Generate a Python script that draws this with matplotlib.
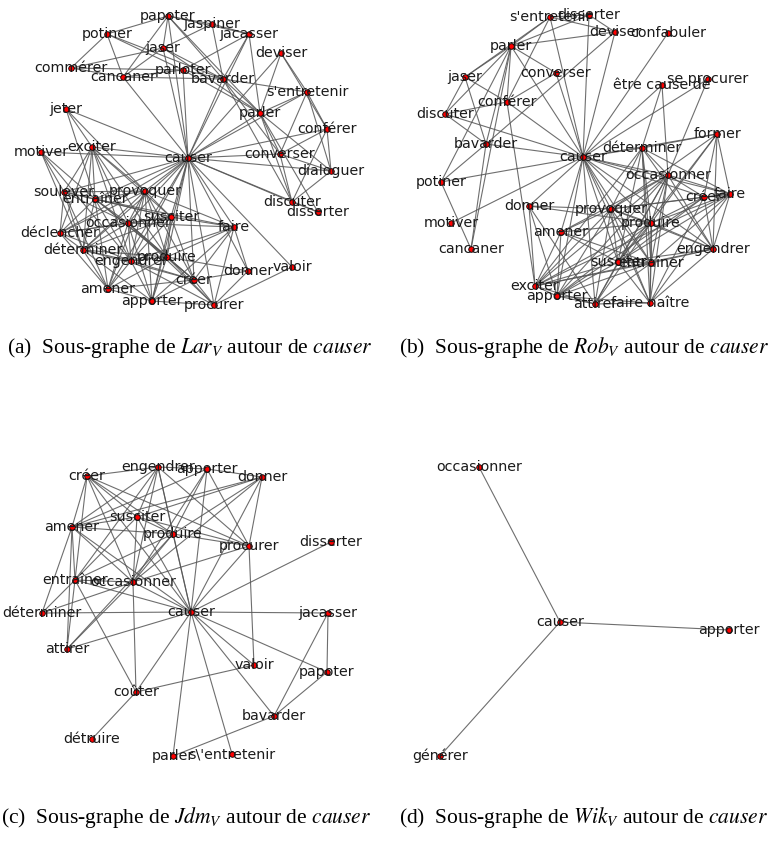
import matplotlib
matplotlib.use('Agg')
import matplotlib.pyplot as plt

plt.rcParams['mathtext.fontset'] = 'stix'

# --- (a) Lar_V : node layout (panel units) ---
lar_nodes = ['papoter', 'jaspiner', 'jacasser', 'potiner', 'jaser', 'commérer', 'cancaner',
             'parloter', 'bavarder', 'deviser', "s'entretenir", 'parler', 'jeter', 'conférer',
             'motiver', 'exciter', 'causer', 'converser', 'dialoguer', 'soulever', 'entraîner',
             'provoquer', 'discuter', 'disserter', 'susciter', 'occasionner', 'faire',
             'déclencher', 'déterminer', 'engendrer', 'produire', 'donner', 'valoir', 'créer',
             'amener', 'apporter', 'procurer']
lar_x = [168, 212, 249, 107, 163, 71, 123, 183, 223, 281, 307, 260, 66, 327, 41, 92, 188, 280,
         331, 64, 95, 145, 292, 318, 171, 128, 234, 60, 83, 131, 167, 248, 292, 194, 108, 152, 214]
lar_y = [16, 24, 34, 34, 48, 68, 77, 70, 79, 53, 92, 113, 109, 129, 152, 147, 158, 154, 171, 192,
         199, 191, 202, 212, 217, 223, 227, 233, 250, 261, 257, 271, 267, 280, 289, 301, 305]
lar_edges = [
    ('potiner', 'papoter'), ('potiner', 'commérer'), ('potiner', 'cancaner'), ('potiner', 'bavarder'),
    ('potiner', 'parloter'), ('papoter', 'jaser'), ('papoter', 'cancaner'), ('papoter', 'jacasser'),
    ('papoter', 'bavarder'), ('papoter', 'parler'), ('papoter', 'jaspiner'), ('jaspiner', 'jaser'),
    ('jaspiner', 'jacasser'), ('jaspiner', 'bavarder'), ('jacasser', 'bavarder'), ('jacasser', 'parloter'),
    ('jacasser', 'parler'), ('jaser', 'commérer'), ('jaser', 'cancaner'), ('jaser', 'bavarder'),
    ('jaser', 'parler'), ('commérer', 'cancaner'), ('commérer', 'parloter'), ('cancaner', 'parloter'),
    ('cancaner', 'bavarder'), ('parloter', 'bavarder'), ('parloter', 'parler'), ('bavarder', 'parler'),
    ('bavarder', "s'entretenir"), ('bavarder', 'converser'), ('bavarder', 'discuter'),
    ('deviser', 'parler'), ('deviser', "s'entretenir"), ('deviser', 'conférer'),
    ("s'entretenir", 'parler'), ("s'entretenir", 'converser'), ("s'entretenir", 'conférer'),
    ("s'entretenir", 'dialoguer'), ('parler', 'converser'), ('parler', 'discuter'),
    ('parler', 'dialoguer'), ('parler', 'disserter'), ('conférer', 'converser'), ('conférer', 'dialoguer'),
    ('conférer', 'discuter'), ('converser', 'dialoguer'), ('converser', 'discuter'),
    ('dialoguer', 'discuter'), ('discuter', 'disserter'),
    ('jeter', 'exciter'), ('jeter', 'provoquer'), ('jeter', 'entraîner'),
    ('motiver', 'soulever'), ('motiver', 'entraîner'), ('motiver', 'déterminer'), ('motiver', 'engendrer'),
    ('exciter', 'soulever'), ('exciter', 'entraîner'), ('exciter', 'provoquer'), ('exciter', 'occasionner'),
    ('exciter', 'déclencher'), ('exciter', 'déterminer'), ('exciter', 'engendrer'), ('exciter', 'produire'),
    ('exciter', 'susciter'), ('soulever', 'provoquer'), ('soulever', 'déclencher'), ('soulever', 'déterminer'),
    ('soulever', 'susciter'), ('soulever', 'entraîner'), ('soulever', 'occasionner'), ('soulever', 'amener'),
    ('entraîner', 'provoquer'), ('entraîner', 'occasionner'), ('entraîner', 'déclencher'),
    ('entraîner', 'déterminer'), ('entraîner', 'engendrer'), ('entraîner', 'produire'), ('entraîner', 'créer'),
    ('entraîner', 'amener'), ('entraîner', 'susciter'), ('entraîner', 'faire'),
    ('provoquer', 'susciter'), ('provoquer', 'occasionner'), ('provoquer', 'déclencher'),
    ('provoquer', 'déterminer'), ('provoquer', 'engendrer'), ('provoquer', 'produire'), ('provoquer', 'créer'),
    ('provoquer', 'amener'), ('provoquer', 'apporter'), ('provoquer', 'faire'),
    ('susciter', 'occasionner'), ('susciter', 'déclencher'), ('susciter', 'déterminer'),
    ('susciter', 'engendrer'), ('susciter', 'produire'), ('susciter', 'créer'), ('susciter', 'apporter'),
    ('susciter', 'faire'), ('occasionner', 'faire'), ('occasionner', 'déclencher'),
    ('occasionner', 'déterminer'), ('occasionner', 'engendrer'), ('occasionner', 'produire'),
    ('occasionner', 'créer'), ('occasionner', 'amener'), ('occasionner', 'apporter'),
    ('occasionner', 'procurer'), ('faire', 'produire'), ('faire', 'créer'), ('faire', 'donner'),
    ('faire', 'procurer'), ('faire', 'engendrer'), ('faire', 'apporter'), ('déclencher', 'déterminer'),
    ('déclencher', 'amener'), ('déclencher', 'engendrer'), ('déterminer', 'engendrer'),
    ('déterminer', 'produire'), ('déterminer', 'amener'), ('déterminer', 'apporter'), ('déterminer', 'créer'),
    ('engendrer', 'produire'), ('engendrer', 'créer'), ('engendrer', 'amener'), ('engendrer', 'apporter'),
    ('engendrer', 'procurer'), ('produire', 'créer'), ('produire', 'apporter'), ('produire', 'donner'),
    ('produire', 'procurer'), ('produire', 'amener'), ('créer', 'apporter'), ('créer', 'procurer'),
    ('créer', 'donner'), ('donner', 'procurer'), ('valoir', 'procurer'), ('amener', 'apporter'),
    ('amener', 'créer'), ('apporter', 'procurer'),
] + [('causer', n) for n in lar_nodes if n not in ('causer', 'potiner', 'commérer', 'jaspiner')]

# --- (b) Rob_V ---
rob_nodes = ["s'entretenir", 'disserter', 'deviser', 'confabuler', 'parler', 'jaser', 'converser',
             'se procurer', 'être cause de', 'conférer', 'discuter', 'former', 'bavarder', 'déterminer',
             'causer', 'occasionner', 'potiner', 'faire', 'créer', 'donner', 'provoquer', 'motiver',
             'produire', 'amener', 'cancaner', 'engendrer', 'susciter', 'entraîner', 'exciter',
             'apporter', 'attirer', 'faire naître']
rob_x = [160, 199, 225, 278, 121, 75, 166, 318, 272, 117, 55, 327, 96, 252, 193, 278, 51, 340, 314,
         139, 221, 61, 261, 171, 81, 323, 228, 261, 145, 167, 205, 260]
rob_y = [17, 15, 32, 33, 46, 77, 73, 79, 85, 102, 114, 134, 144, 148, 157, 175, 182, 194, 197, 206,
         209, 223, 223, 232, 249, 249, 262, 263, 286, 296, 304, 303]
rob_edges = [
    ("s'entretenir", 'parler'), ("s'entretenir", 'conférer'), ("s'entretenir", 'disserter'),
    ("s'entretenir", 'deviser'), ("s'entretenir", 'jaser'), ('disserter', 'parler'), ('disserter', 'deviser'),
    ('deviser', 'parler'), ('deviser', 'bavarder'), ('parler', 'jaser'), ('parler', 'discuter'),
    ('parler', 'conférer'), ('parler', 'converser'), ('parler', 'bavarder'), ('parler', 'potiner'),
    ('jaser', 'discuter'), ('jaser', 'bavarder'), ('jaser', 'conférer'), ('converser', 'conférer'),
    ('conférer', 'discuter'), ('conférer', 'exciter'), ('discuter', 'bavarder'), ('bavarder', 'potiner'),
    ('bavarder', 'cancaner'), ('potiner', 'cancaner'), ('parler', 'cancaner'),
    ('être cause de', 'déterminer'), ('être cause de', 'occasionner'), ('se procurer', 'occasionner'),
    ('former', 'déterminer'), ('former', 'créer'), ('former', 'faire'), ('former', 'engendrer'),
    ('former', 'produire'), ('former', 'provoquer'), ('former', 'susciter'),
    ('déterminer', 'occasionner'), ('déterminer', 'faire'), ('déterminer', 'provoquer'),
    ('déterminer', 'produire'), ('déterminer', 'entraîner'), ('déterminer', 'susciter'),
    ('déterminer', 'exciter'), ('déterminer', 'engendrer'), ('déterminer', 'faire naître'),
    ('occasionner', 'créer'), ('occasionner', 'faire'), ('occasionner', 'provoquer'),
    ('occasionner', 'produire'), ('occasionner', 'susciter'), ('occasionner', 'entraîner'),
    ('occasionner', 'engendrer'), ('occasionner', 'amener'), ('occasionner', 'apporter'),
    ('occasionner', 'attirer'), ('occasionner', 'exciter'), ('occasionner', 'faire naître'),
    ('faire', 'créer'), ('faire', 'provoquer'), ('faire', 'produire'), ('faire', 'susciter'),
    ('faire', 'entraîner'), ('faire', 'engendrer'), ('faire', 'exciter'), ('faire', 'faire naître'),
    ('créer', 'provoquer'), ('créer', 'produire'), ('créer', 'susciter'), ('créer', 'engendrer'),
    ('créer', 'apporter'), ('créer', 'faire naître'), ('donner', 'provoquer'), ('donner', 'apporter'),
    ('donner', 'exciter'), ('donner', 'produire'), ('donner', 'attirer'), ('provoquer', 'produire'),
    ('provoquer', 'amener'), ('provoquer', 'susciter'), ('provoquer', 'entraîner'),
    ('provoquer', 'exciter'), ('provoquer', 'apporter'), ('provoquer', 'attirer'),
    ('provoquer', 'faire naître'), ('provoquer', 'engendrer'), ('produire', 'amener'),
    ('produire', 'susciter'), ('produire', 'entraîner'), ('produire', 'engendrer'),
    ('produire', 'faire naître'), ('produire', 'apporter'), ('produire', 'exciter'), ('produire', 'attirer'),
    ('amener', 'susciter'), ('amener', 'entraîner'), ('amener', 'exciter'), ('amener', 'apporter'),
    ('engendrer', 'susciter'), ('engendrer', 'entraîner'), ('engendrer', 'faire naître'),
    ('engendrer', 'exciter'), ('susciter', 'entraîner'), ('susciter', 'exciter'), ('susciter', 'apporter'),
    ('susciter', 'attirer'), ('susciter', 'faire naître'), ('entraîner', 'exciter'),
    ('entraîner', 'apporter'), ('entraîner', 'attirer'), ('entraîner', 'faire naître'),
    ('exciter', 'apporter'), ('exciter', 'attirer'), ('apporter', 'attirer'), ('apporter', 'faire naître'),
    ('attirer', 'faire naître'),
] + [('causer', n) for n in rob_nodes if n not in ('causer', 'jaser', 'cancaner', 'exciter')]

# --- (c) Jdm_V ---
jdm_nodes = ['engendrer', 'apporter', 'créer', 'donner', 'susciter', 'amener', 'produire', 'disserter',
             'procurer', 'entraîner', 'occasionner', 'déterminer', 'causer', 'jacasser', 'attirer',
             'valoir', 'papoter', 'coûter', 'bavarder', 'détruire', 'parler', "s\\'entretenir"]
jdm_x = [158, 207, 87, 262, 137, 72, 173, 331, 249, 75, 133, 42, 191, 328, 67, 254, 327, 136, 274, 92,
         173, 232]
jdm_y = [47, 49, 56, 57, 97, 107, 114, 122, 126, 160, 162, 193, 192, 193, 229, 245, 252, 272, 296,
         319, 336, 334]
jdm_edges = [
    ('créer', 'engendrer'), ('créer', 'amener'), ('créer', 'entraîner'), ('créer', 'susciter'),
    ('créer', 'produire'), ('créer', 'procurer'), ('créer', 'occasionner'), ('créer', 'causer'),
    ('engendrer', 'apporter'), ('engendrer', 'amener'), ('engendrer', 'entraîner'), ('engendrer', 'susciter'),
    ('engendrer', 'produire'), ('engendrer', 'occasionner'), ('engendrer', 'causer'),
    ('engendrer', 'procurer'), ('apporter', 'donner'), ('apporter', 'produire'), ('apporter', 'occasionner'),
    ('apporter', 'causer'), ('apporter', 'procurer'), ('apporter', 'amener'), ('donner', 'susciter'),
    ('donner', 'amener'), ('donner', 'produire'), ('donner', 'procurer'), ('donner', 'occasionner'),
    ('donner', 'causer'), ('susciter', 'amener'), ('susciter', 'entraîner'), ('susciter', 'produire'),
    ('susciter', 'procurer'), ('susciter', 'occasionner'), ('susciter', 'causer'),
    ('amener', 'produire'), ('amener', 'entraîner'), ('amener', 'déterminer'), ('amener', 'attirer'),
    ('amener', 'occasionner'), ('amener', 'causer'), ('produire', 'procurer'), ('produire', 'entraîner'),
    ('produire', 'occasionner'), ('produire', 'causer'), ('produire', 'attirer'),
    ('procurer', 'occasionner'), ('procurer', 'causer'), ('procurer', 'valoir'),
    ('entraîner', 'déterminer'), ('entraîner', 'attirer'), ('entraîner', 'occasionner'),
    ('entraîner', 'causer'), ('entraîner', 'coûter'), ('occasionner', 'déterminer'),
    ('occasionner', 'attirer'), ('occasionner', 'causer'), ('occasionner', 'coûter'),
    ('déterminer', 'causer'), ('attirer', 'causer'), ('causer', 'disserter'), ('causer', 'jacasser'),
    ('causer', 'papoter'), ('causer', 'valoir'), ('causer', 'bavarder'), ('causer', 'parler'),
    ('causer', "s\\'entretenir"), ('causer', 'coûter'), ('jacasser', 'papoter'), ('jacasser', 'bavarder'),
    ('papoter', 'bavarder'), ('bavarder', 'parler'), ('coûter', 'valoir'), ('coûter', 'détruire'),
]

# --- (d) Wik_V ---
wik_nodes = ['occasionner', 'causer', 'apporter', 'générer']
wik_x = [89, 170, 339, 50]
wik_y = [47, 202, 210, 336]
wik_edges = [('causer', 'occasionner'), ('causer', 'apporter'), ('causer', 'générer')]

captions = [r'(a)  Sous-graphe de $Lar_V$ autour de $causer$',
            r'(b)  Sous-graphe de $Rob_V$ autour de $causer$',
            r'(c)  Sous-graphe de $Jdm_V$ autour de $causer$',
            r'(d)  Sous-graphe de $Wik_V$ autour de $causer$']

W, H = 774, 843
fig = plt.figure(figsize=(W / 100, H / 100), dpi=100)

# panel boxes in pixels: left, top, width, height
boxes = [(0, 0, 380, 320), (390, 0, 384, 320), (0, 420, 380, 360), (390, 420, 384, 360)]
graphs = [(lar_nodes, lar_x, lar_y, lar_edges), (rob_nodes, rob_x, rob_y, rob_edges),
          (jdm_nodes, jdm_x, jdm_y, jdm_edges), (wik_nodes, wik_x, wik_y, wik_edges)]


def draw_graph(ax, names, xs, ys, edges):
    pos = {n: (x, y) for n, x, y in zip(names, xs, ys)}
    for a, b in edges:
        ax.plot([pos[a][0], pos[b][0]], [pos[a][1], pos[b][1]], color='#555555',
                lw=0.8, alpha=0.85, zorder=1, solid_capstyle='butt')
    ax.scatter(xs, ys, s=16, c='red', edgecolors='black', linewidths=0.6, zorder=2)
    for n, x, y in zip(names, xs, ys):
        ax.text(x, y, n, ha='center', va='center', fontsize=10.3, color='#1a1a1a',
                zorder=3, clip_on=False)


for (l, t, w, h), (names, xs, ys, edges) in zip(boxes, graphs):
    ax = fig.add_axes([l / W, 1 - (t + h) / H, w / W, h / H])
    draw_graph(ax, names, xs, ys, edges)
    ax.set_xlim(0, w)
    ax.set_ylim(h, 0)
    ax.axis('off')

cap_pos = [(190, 348), (584, 348), (186, 818), (584, 818)]
for (cx, cy), txt in zip(cap_pos, captions):
    fig.text(cx / W, 1 - cy / H, txt, ha='center', va='center', fontsize=15.5,
             family='Liberation Serif')

fig.savefig('out.png', dpi=100)
